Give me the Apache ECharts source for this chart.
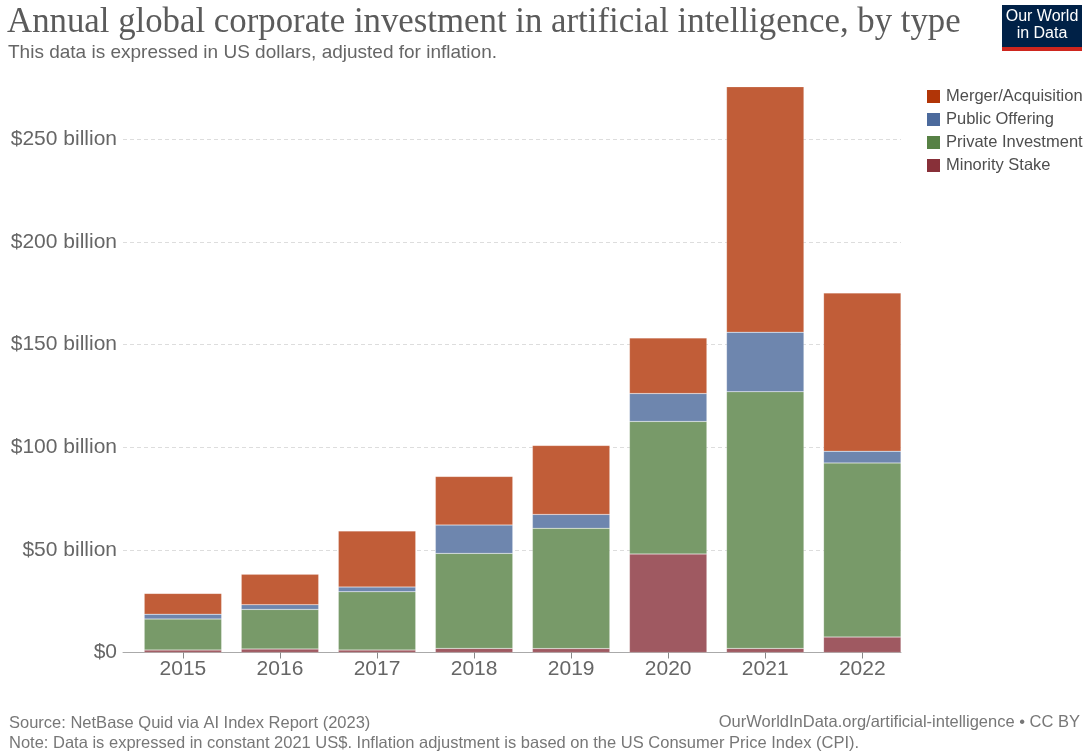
<!DOCTYPE html>
<html>
<head>
<meta charset="utf-8">
<script src="https://cdn.jsdelivr.net/npm/echarts@6/dist/echarts.min.js"></script>
<style>
html,body{margin:0;padding:0;background:#fff;}
#chart{width:1091px;height:755px;}
</style>
</head>
<body>
<div id="chart"></div>
<script>
// ---- Data (billions of constant 2021 US$) ----
var years = ['2015', '2016', '2017', '2018', '2019', '2020', '2021', '2022'];
var minorityStake = [1.2, 1.7, 1.2, 2.0, 1.9, 48.0, 2.0, 7.5];
var privateInvestment = [15.1, 19.3, 28.4, 46.3, 58.6, 64.6, 125.1, 84.9];
var publicOffering = [2.4, 2.3, 2.3, 13.8, 6.8, 13.6, 29.0, 5.7];
var mergerAcquisition = [10.1, 14.8, 27.3, 23.7, 33.6, 27.1, 119.6, 77.1];
var yTicks = [0, 50, 100, 150, 200, 250];
var legendOrder = ['Merger/Acquisition', 'Public Offering', 'Private Investment', 'Minority Stake'];

var FONT = '"Liberation Sans", Arial, Helvetica, sans-serif';
var legendColors = {
  'Merger/Acquisition': '#b13507',
  'Public Offering': '#4c6a9c',
  'Private Investment': '#578145',
  'Minority Stake': '#883039'
};
var barColors = {
  'Merger/Acquisition': '#c15d38',
  'Public Offering': '#6e86ae',
  'Private Investment': '#789a69',
  'Minority Stake': '#9f5961'
};

var zeroY = 652.5, y250 = 139.5;
var pxPer = (zeroY - y250) / 250;
var barMax = 280;

function barSeries(name, data) {
  return {
    name: name, type: 'bar', stack: 'total', xAxisIndex: 1, yAxisIndex: 1,
    data: data, barWidth: 77.4,
    itemStyle: { color: barColors[name], borderColor: 'rgba(255,255,255,0.35)', borderWidth: 0.5 },
    emphasis: { disabled: true }
  };
}

var chart = echarts.init(document.getElementById('chart'), null, { renderer: 'canvas' });
chart.setOption({
  animation: false,
  backgroundColor: '#ffffff',
  title: [
    { text: 'Annual global corporate investment in artificial intelligence, by type', left: 7, top: 5, padding: 0,
      textStyle: { fontFamily: '"Liberation Serif", "DejaVu Serif", serif', fontSize: 34.8, fontWeight: 'normal', color: '#5b5b5b' } },
    { text: 'This data is expressed in US dollars, adjusted for inflation.', left: 8, top: 43.5, padding: 0,
      textStyle: { fontFamily: FONT, fontSize: 19, fontWeight: 'normal', color: '#666666' } },
    { text: 'Source: NetBase Quid via AI Index Report (2023)', left: 9, top: 715, padding: 0,
      textStyle: { fontFamily: FONT, fontSize: 16.5, fontWeight: 'normal', color: '#777777' } },
    { text: 'Note: Data is expressed in constant 2021 US$. Inflation adjustment is based on the US Consumer Price Index (CPI).', left: 9, top: 735, padding: 0,
      textStyle: { fontFamily: FONT, fontSize: 16.5, fontWeight: 'normal', color: '#777777' } },
    { text: 'OurWorldInData.org/artificial-intelligence \u2022 CC BY', right: 11, top: 714, padding: 0,
      textStyle: { fontFamily: FONT, fontSize: 16.5, fontWeight: 'normal', color: '#777777' } }
  ],
  legend: {
    orient: 'vertical', left: 927, top: 88, itemWidth: 13, itemHeight: 13, itemGap: 6,
    icon: 'rect', selectedMode: false, padding: 0,
    textStyle: { fontFamily: FONT, fontSize: 16.5, color: '#4e4e4e', padding: [0, 0, 0, 1] },
    data: legendOrder.map(function (n) { return { name: n, itemStyle: { color: legendColors[n], borderWidth: 0 } }; })
  },
  grid: [
    { left: 123, right: 1091 - 901, top: y250, bottom: 755 - zeroY, containLabel: false },
    { left: 134.4, right: 1091 - 910.8, top: zeroY - barMax * pxPer, bottom: 755 - zeroY, containLabel: false }
  ],
  xAxis: [
    { type: 'category', gridIndex: 0, data: years,
      axisLine: { show: true, lineStyle: { color: '#aaaaaa', width: 1 } },
      axisTick: { show: false }, axisLabel: { show: false }, splitLine: { show: false } },
    { type: 'category', gridIndex: 1, data: years, z: 10,
      axisLine: { show: false },
      axisTick: { show: true, alignWithLabel: true, length: 6, lineStyle: { color: '#888888', width: 1 } },
      axisLabel: { show: true, margin: 6, fontFamily: FONT, fontSize: 21, color: '#666666' },
      splitLine: { show: false } }
  ],
  yAxis: [
    { type: 'value', gridIndex: 0, min: yTicks[0], max: yTicks[yTicks.length - 1], interval: 50,
      axisLine: { show: false }, axisTick: { show: false },
      axisLabel: { show: true, margin: 6, fontFamily: FONT, fontSize: 21, color: '#666666',
        formatter: function (v) { return v === 0 ? '$0' : '$' + v + ' billion'; } },
      splitLine: { show: true, lineStyle: { color: '#dddddd', width: 1, type: [4, 3] } } },
    { type: 'value', gridIndex: 1, min: 0, max: barMax, show: false, splitLine: { show: false } }
  ],
  series: [
    barSeries('Minority Stake', minorityStake),
    barSeries('Private Investment', privateInvestment),
    barSeries('Public Offering', publicOffering),
    barSeries('Merger/Acquisition', mergerAcquisition)
  ],
  graphic: [
    { type: 'group', left: 1002, top: 5, children: [
      { type: 'rect', shape: { x: 0, y: 0, width: 80, height: 46 }, style: { fill: '#002147' } },
      { type: 'rect', shape: { x: 0, y: 42, width: 80, height: 4 }, style: { fill: '#ce261e' } },
      { type: 'text', style: { text: 'Our World', x: 40, y: 12, align: 'center', verticalAlign: 'middle', font: '16px "Liberation Sans", Arial, sans-serif', fill: '#ffffff' } },
      { type: 'text', style: { text: 'in Data', x: 40, y: 29, align: 'center', verticalAlign: 'middle', font: '16px "Liberation Sans", Arial, sans-serif', fill: '#ffffff' } }
    ] }
  ]
});
</script>
</body>
</html>
